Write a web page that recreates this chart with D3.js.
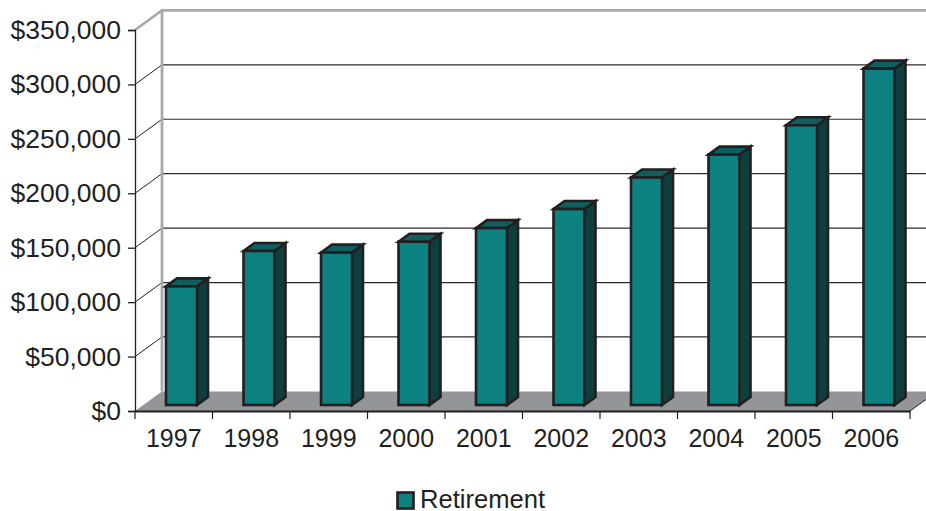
<!DOCTYPE html>
<html><head><meta charset="utf-8">
<script src="https://cdn.jsdelivr.net/npm/d3@7/dist/d3.min.js"></script>
<style>html,body{margin:0;padding:0;background:#fff}svg{display:block}text{font-family:"Liberation Sans",Arial,sans-serif;fill:#231f20}</style>
</head><body><svg id="c" width="926" height="511"></svg>
<script>
const categories = ["1997","1998","1999","2000","2001","2002","2003","2004","2005","2006"];
const retirement = [109000,141500,140000,150000,162500,180000,209000,230000,257000,309000];
const yTicks = [0,50000,100000,150000,200000,250000,300000,350000];
const seriesName = "Retirement";

const svg = d3.select("#c");
const axisLeft = 135, axisRight = 910, axisBottom = 411, axisTop = 30;
const depthX = 27, depthY = 19.6;
const x = d3.scaleBand().domain(categories).range([axisLeft, axisRight]);
const y = d3.scaleLinear().domain([0,350000]).range([axisBottom, axisTop]);
const fmt = d3.format("$,.0f");
const INK = "#231f20", WALL = "#a7a9ac", FLOOR = "#939598";
const FACE = "#0d8080", SIDE = "#0e3f3f", TOP = "#0e6060";

// floor
svg.append("polygon").attr("fill", FLOOR).attr("points", [
  [axisLeft,axisBottom],[axisLeft+depthX,axisBottom-depthY],[axisRight+depthX,axisBottom-depthY],[axisRight,axisBottom]
].join(" "));

// gridlines, front-to-back connectors and back wall
const inner = yTicks.filter(t => t > 0 && t < 350000);
svg.append("g").selectAll("line.h").data(inner).join("line")
  .attr("x1", axisLeft+depthX).attr("x2", 926)
  .attr("y1", d => y(d)-depthY).attr("y2", d => y(d)-depthY)
  .attr("stroke", "#2b2b2b").attr("stroke-width", 1.2);
svg.append("g").selectAll("line.d").data(inner).join("line")
  .attr("x1", axisLeft).attr("x2", axisLeft+depthX)
  .attr("y1", d => y(d)).attr("y2", d => y(d)-depthY)
  .attr("stroke", INK).attr("stroke-width", 1);
svg.append("path").attr("fill","none").attr("stroke",WALL).attr("stroke-width",2.6)
  .attr("d", d3.line()([[axisLeft,axisTop],[axisLeft+depthX,axisTop-depthY],[926,axisTop-depthY]]));
svg.append("line").attr("x1",axisLeft+depthX).attr("x2",axisLeft+depthX)
  .attr("y1",axisTop-depthY).attr("y2",axisBottom-depthY)
  .attr("stroke",WALL).attr("stroke-width",2.8);
svg.append("line").attr("x1",axisRight).attr("y1",axisBottom).attr("x2",926).attr("y2",axisBottom-11.5)
  .attr("stroke",INK).attr("stroke-width",1);

// axes
const gy = svg.append("g").attr("transform",`translate(${axisLeft},0)`)
  .call(d3.axisLeft(y).tickValues(yTicks).tickFormat(fmt).tickSize(7).tickPadding(7));
gy.select(".domain").attr("stroke",INK).attr("stroke-width",1.3);
gy.selectAll("line").attr("stroke",INK).attr("stroke-width",1.3);
gy.selectAll("text").attr("font-size",26.5).style("font-family",'"Liberation Sans",Arial,sans-serif').attr("fill",INK);

const gx = svg.append("g").attr("transform",`translate(0,${axisBottom})`)
  .call(d3.axisBottom(x).tickSize(0).tickPadding(18));
gx.select(".domain").attr("stroke",INK).attr("stroke-width",1.8);
gx.selectAll("text").attr("font-size",25).attr("dy","0.71em").style("font-family",'"Liberation Sans",Arial,sans-serif').attr("fill",INK);
svg.append("g").selectAll("line").data(categories.map(c=>x(c)).concat(axisRight)).join("line")
  .attr("x1",d=>d).attr("x2",d=>d).attr("y1",axisBottom).attr("y2",axisBottom+8)
  .attr("stroke",INK).attr("stroke-width",1.2);

// bars
const barInset = 31, barW = 31, bdx = 11, bdy = 8, barBase = 6;
const bars = svg.append("g").selectAll("g").data(categories.map((c,i)=>({c,v:retirement[i]}))).join("g")
  .attr("stroke",INK).attr("stroke-width",2.6).attr("stroke-linejoin","miter");
const L = d => x(d.c)+barInset, R = d => L(d)+barW, T = d => y(d.v)-barBase, B = () => y(0)-barBase;
bars.append("polygon").attr("fill",SIDE).attr("points",d=>[[R(d),T(d)],[R(d)+bdx,T(d)-bdy],[R(d)+bdx,B()-bdy],[R(d),B()]].join(" "));
bars.append("polygon").attr("fill",TOP).attr("points",d=>[[L(d),T(d)],[L(d)+bdx,T(d)-bdy],[R(d)+bdx,T(d)-bdy],[R(d),T(d)]].join(" "));
bars.append("rect").attr("fill",FACE).attr("x",L).attr("y",T).attr("width",barW).attr("height",d=>B()-T(d));

// legend
svg.append("rect").attr("x",397.5).attr("y",492.5).attr("width",16).attr("height",16)
  .attr("fill",FACE).attr("stroke",INK).attr("stroke-width",2.6);
svg.append("text").attr("x",420).attr("y",508).attr("font-size",25.6).text(seriesName);
</script></body></html>
